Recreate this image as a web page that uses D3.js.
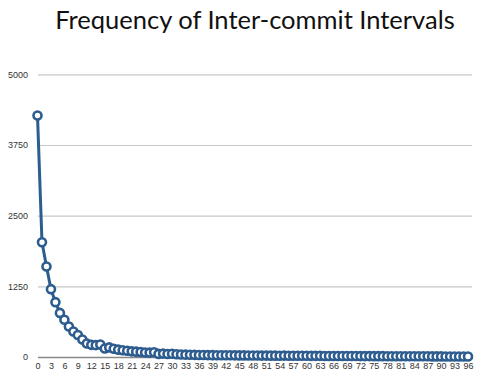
<!DOCTYPE html>
<html><head><meta charset="utf-8">
<script src="https://cdn.jsdelivr.net/npm/d3@7"></script>
<style>body{margin:0;background:#fff;}svg{display:block;}</style>
</head><body>
<svg id="chart" width="480" height="379"></svg>
<script>
const title = "Frequency of Inter-commit Intervals";
const yTicks = [0, 1250, 2500, 3750, 5000];
const intervals = d3.range(0, 97);
const frequency = [
 4270, 2030, 1600, 1200, 970, 780, 660, 540, 450, 390,
 310, 240, 215, 210, 220, 150, 170, 145, 130, 120,
 110, 100, 95, 88, 80, 78, 85, 55, 60, 52,
 58, 48, 45, 42, 40, 38, 36, 35, 34, 33,
 32, 31, 30, 30, 29, 28, 28, 27, 26, 26,
 25, 25, 24, 24, 23, 25, 23, 22, 22, 21,
 21, 20, 20, 20, 19, 19, 18, 18, 18, 17,
 17, 17, 16, 16, 16, 15, 15, 15, 14, 14,
 14, 13, 13, 13, 12, 12, 12, 12, 11, 11,
 11, 10, 10, 10, 10, 9, 9
];
const xTickLabels = d3.range(0, 97, 3);

const svg = d3.select("#chart");
const x = d3.scaleLinear().domain([0, 96]).range([37.5, 468]);
const y = d3.scaleLinear().domain([0, 5000]).range([357, 74.3]);

svg.append("text").attr("x", 255).attr("y", 29).attr("text-anchor", "middle")
  .attr("font-family", "Lato, 'Open Sans', sans-serif").attr("font-size", 25.5)
  .attr("fill", "#111").text(title);

// grid
const yAxis = d3.axisLeft(y).tickValues(yTicks).tickFormat(d3.format("d")).tickSize(-(472 - 38)).tickPadding(10);
const gy = svg.append("g").attr("transform", "translate(38,0)").call(yAxis);
gy.select(".domain").remove();
gy.selectAll(".tick line").attr("stroke", "#c8c8c8").attr("stroke-width", 1.2);
gy.selectAll(".tick text").attr("font-family", "Liberation Sans, Arial, sans-serif")
  .attr("font-size", 9).attr("fill", "#333");
gy.selectAll(".tick").filter(d => d === 0).select("line").attr("stroke", "#888").attr("stroke-width", 1.5);

const xAxis = d3.axisBottom(x).tickValues(xTickLabels).tickFormat(d3.format("d")).tickSize(0).tickPadding(6);
const gx = svg.append("g").attr("transform", "translate(0,357)").call(xAxis);
gx.select(".domain").remove();
gx.selectAll(".tick text").attr("font-family", "Liberation Sans, Arial, sans-serif")
  .attr("font-size", 9).attr("fill", "#333");

const line = d3.line().x((d, i) => x(intervals[i])).y(d => y(d));
svg.append("path").datum(frequency).attr("d", line)
  .attr("fill", "none").attr("stroke", "#2d5c8f").attr("stroke-width", 3).attr("stroke-linejoin", "round");

svg.append("g").selectAll("circle").data(frequency).join("circle")
  .attr("cx", (d, i) => x(intervals[i])).attr("cy", d => y(d)).attr("r", 4)
  .attr("fill", "#fff").attr("stroke", "#2d5c8f").attr("stroke-width", 2.6);
</script>
</body></html>
